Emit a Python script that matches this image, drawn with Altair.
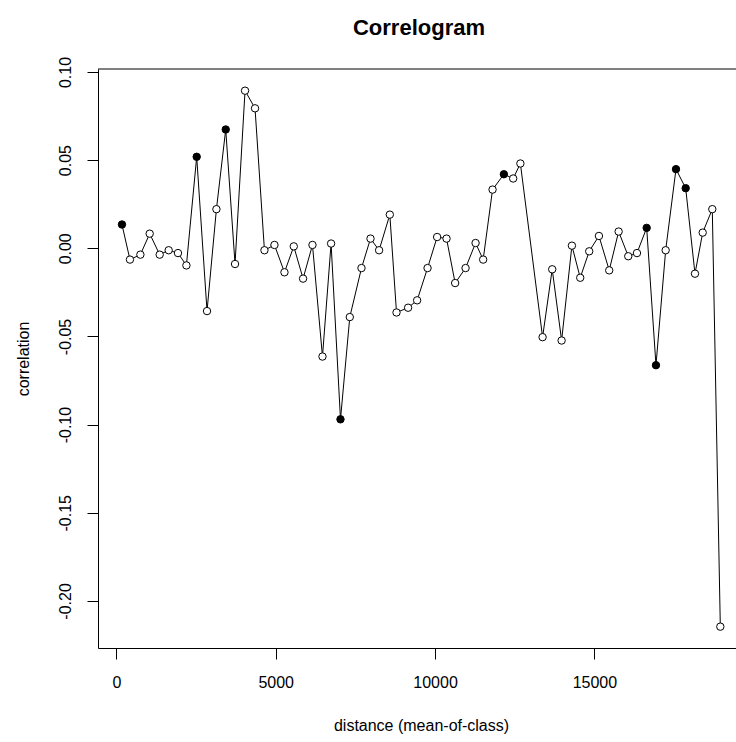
import altair as alt
import pandas as pd

# mean-of-class distances and correlations
distance = [176, 427, 754, 1046, 1360, 1642, 1934, 2198, 2521, 2845,
            3140, 3432, 3724, 4038, 4352, 4647, 4961, 5275, 5567, 5859,
            6154, 6468, 6738, 7033, 7325, 7692, 7975, 8245, 8581, 8791,
            9155, 9438, 9765, 10066, 10361, 10631, 10958, 11272, 11510, 11805,
            12160, 12452, 12678, 13375, 13677, 13972, 14295, 14556, 14838, 15143,
            15466, 15761, 16063, 16336, 16641, 16933, 17237, 17561, 17865, 18157,
            18399, 18700, 18952]
correlation = [0.0135, -0.0064, -0.0036, 0.0083, -0.0036, -0.0011, -0.0027, -0.0097, 0.0519, -0.0356,
               0.0222, 0.0674, -0.0089, 0.0894, 0.0794, -0.0011, 0.0019, -0.0136, 0.0011, -0.0172,
               0.0019, -0.0614, 0.0027, -0.0970, -0.0390, -0.0112, 0.0055, -0.0011, 0.0191, -0.0364,
               -0.0337, -0.0295, -0.0112, 0.0064, 0.0055, -0.0197, -0.0112, 0.0030, -0.0064, 0.0333,
               0.0420, 0.0396, 0.0481, -0.0504, -0.0119, -0.0523, 0.0015, -0.0167, -0.0017, 0.0070,
               -0.0125, 0.0095, -0.0045, -0.0027, 0.0116, -0.0663, -0.0011, 0.0449, 0.0341, -0.0144,
               0.0089, 0.0222, -0.2146]
filled = [1, 0, 0, 0, 0, 0, 0, 0, 1, 0,
          0, 1, 0, 0, 0, 0, 0, 0, 0, 0,
          0, 0, 0, 1, 0, 0, 0, 0, 0, 0,
          0, 0, 0, 0, 0, 0, 0, 0, 0, 0,
          1, 0, 0, 0, 0, 0, 0, 0, 0, 0,
          0, 0, 0, 0, 1, 1, 0, 1, 1, 0,
          0, 0, 0]

x_ticks = [0, 5000, 10000, 15000]
y_ticks = [-0.20, -0.15, -0.10, -0.05, 0.00, 0.05, 0.10]

df = pd.DataFrame({
    "distance": distance,
    "correlation": correlation,
    "kind": ["significant" if f else "not significant" for f in filled],
})

W, H = 638, 579
FONT = "Liberation Sans"

x_enc = alt.X(
    "distance:Q",
    scale=alt.Scale(domain=[-576, 19444], nice=False, zero=False),
    axis=alt.Axis(
        values=x_ticks, format="d", grid=False,
        title="distance (mean-of-class)",
        tickSize=11, labelPadding=15,
        titleX=323, titleY=82, titleAlign="center", titleBaseline="alphabetic",
    ),
)
y_enc = alt.Y(
    "correlation:Q",
    scale=alt.Scale(domain=[-0.2267, 0.1017], nice=False, zero=False),
    axis=alt.Axis(
        values=y_ticks, grid=False, title="correlation",
        labelExpr="datum.value < 0 ? '-' + format(-datum.value, '.2f') : format(datum.value, '.2f')",
        labelAngle=-90, labelAlign="center", labelBaseline="alphabetic",
        tickSize=11, labelPadding=17,
        titleAngle=-90, titleX=-70, titleY=H / 2, titleAlign="center",
        titleBaseline="alphabetic",
    ),
)

base = alt.Chart(df).encode(x=x_enc, y=y_enc)

line = base.mark_line(color="black", strokeWidth=1)

points = base.mark_point(shape="circle", size=55, strokeWidth=1, opacity=1).encode(
    fill=alt.Fill(
        "kind:N",
        scale=alt.Scale(domain=["not significant", "significant"], range=["white", "black"]),
        legend=None,
    ),
    color=alt.value("black"),
)

top_border = alt.Chart(pd.DataFrame({"k": [0]})).mark_rule(color="black", strokeWidth=1).encode(
    x=alt.value(0), x2=alt.value(W), y=alt.value(0)
)

chart = (
    alt.layer(line, points, top_border)
    .properties(
        width=W,
        height=H,
        autosize="none",
        padding={"left": 98, "top": 69, "right": 0, "bottom": 94},
        title=alt.TitleParams(
            "Correlogram", font=FONT, fontSize=22, fontWeight="bold", color="black",
            anchor="middle", frame="group", dx=2, baseline="alphabetic", offset=-1,
        ),
        background="white",
    )
    .configure_view(stroke=None)
    .configure_axis(
        domainColor="black", tickColor="black", labelColor="black", titleColor="black",
        labelFont=FONT, titleFont=FONT, labelFontSize=16, titleFontSize=16,
        titleFontWeight="normal", domainWidth=1, tickWidth=1,
    )
)

chart.save("out.html", embed_options={"renderer": "svg", "actions": False})
